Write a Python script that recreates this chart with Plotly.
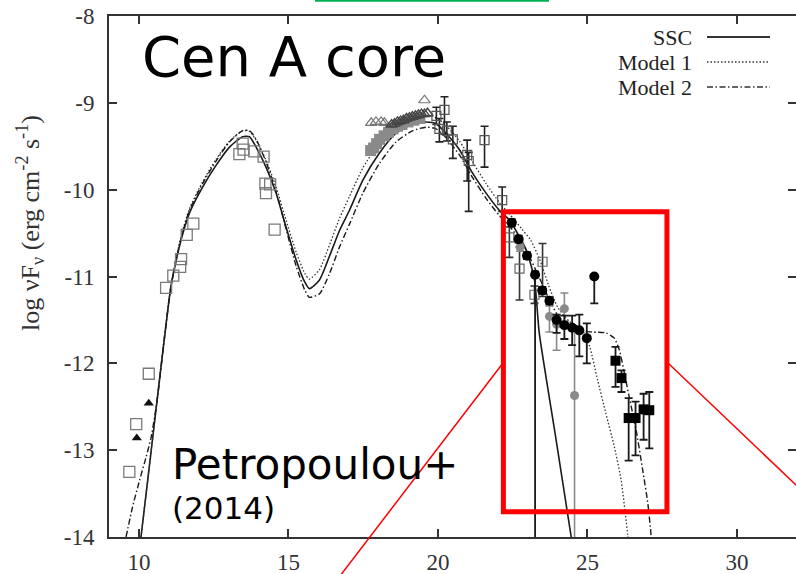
import plotly.graph_objects as go

# ---------------- data ----------------
# model curves (log nu, log nuFnu)
ssc_x = [10.07, 10.3, 10.6, 10.85, 11.08, 11.41, 11.69, 12.13, 12.58, 13.03, 13.47, 13.7, 13.92, 14.25, 14.59,
         14.92, 15.26, 15.54, 15.70, 16.04, 16.37, 16.71, 17.04, 17.49, 18.04, 18.60, 19.16, 19.61, 19.94,
         20.27, 20.72, 21.16, 21.61, 22.06, 22.39, 22.96, 23.23, 23.39, 23.93, 24.45, 24.6]
ssc_y = [-14.0, -13.33, -12.45, -11.72, -11.1, -10.58, -10.27, -9.97, -9.72, -9.51, -9.39, -9.39, -9.51, -9.74,
         -10.04, -10.43, -10.81, -11.06, -11.14, -11.04, -10.77, -10.47, -10.24, -9.89, -9.58, -9.35, -9.24,
         -9.22, -9.24, -9.35, -9.54, -9.81, -10.04, -10.24, -10.35, -10.70, -11.04, -11.65, -12.83, -13.98, -14.3]

m1_x = [10.07, 10.3, 10.6, 10.85, 11.08, 11.41, 11.69, 12.13, 12.58, 13.03, 13.47, 13.7, 13.92, 14.25, 14.59,
        14.92, 15.26, 15.54, 15.70, 16.04, 16.37, 16.71, 17.04, 17.49, 18.04, 18.60, 19.16, 19.61, 19.94,
        20.27, 20.72, 21.16, 21.61, 22.06, 22.39, 22.8, 23.1, 23.4, 23.7, 24.0, 24.4, 24.8, 25.07, 25.34,
        25.62, 25.9, 26.13, 26.35, 26.45]
m1_y = [-14.0, -13.33, -12.45, -11.70, -11.08, -10.54, -10.22, -9.91, -9.65, -9.44, -9.32, -9.33, -9.43, -9.66,
        -9.97, -10.35, -10.72, -10.96, -11.03, -10.92, -10.64, -10.33, -10.08, -9.75, -9.46, -9.26, -9.16,
        -9.14, -9.17, -9.26, -9.44, -9.68, -9.93, -10.15, -10.28, -10.45, -10.58, -10.8, -11.1, -11.35,
        -11.52, -11.6, -11.8, -12.19, -12.58, -12.96, -13.35, -13.98, -14.3]

m2_x = [9.57, 9.79, 10.02, 10.24, 10.41, 10.6, 10.85, 11.08, 11.41, 11.69, 12.13, 12.58, 13.03, 13.47, 13.7,
        13.92, 14.25, 14.59, 14.92, 15.26, 15.54, 15.70, 16.04, 16.37, 16.71, 17.04, 17.49, 18.04, 18.60,
        19.16, 19.61, 19.94, 20.27, 20.72, 21.16, 21.61, 22.06, 22.39, 22.8, 23.1, 23.4, 23.8, 24.1, 24.4,
        24.8, 25.18, 25.62, 25.9, 26.07, 26.24, 26.40, 26.63, 26.85, 27.02, 27.13, 27.2]
m2_y = [-14.0, -13.65, -13.35, -13.08, -12.85, -12.45, -11.72, -11.1, -10.56, -10.24, -9.93, -9.67, -9.45,
        -9.32, -9.32, -9.42, -9.68, -10.02, -10.45, -10.88, -11.15, -11.24, -11.2, -10.97, -10.66, -10.4,
        -10.04, -9.70, -9.45, -9.32, -9.28, -9.3, -9.4, -9.6, -9.86, -10.1, -10.3, -10.42, -10.6, -10.8,
        -11.02, -11.32, -11.5, -11.59, -11.63, -11.64, -11.65, -11.71, -11.85, -12.12, -12.39, -12.77,
        -13.23, -13.61, -13.98, -14.3]

# synchrotron open squares
sy_x = [9.68, 9.91, 10.33, 10.91, 11.15, 11.38, 11.41, 11.60, 11.82, 13.36, 13.47, 13.50, 13.86, 14.17,
        14.23, 14.25, 14.39, 14.54]
sy_y = [-13.25, -12.70, -12.12, -11.13, -10.99, -10.89, -10.80, -10.52, -10.39, -9.59, -9.47, -9.54, -9.56,
        -9.62, -9.93, -10.04, -9.94, -10.46]

# black triangles
tri_x = [9.93, 10.33]
tri_y = [-12.86, -12.46]

# gray open triangles
gtri_x = [17.77, 17.93, 18.10, 18.21, 19.55]
gtri_y = [-9.23, -9.22, -9.22, -9.23, -8.97]

# dark band of triangles
dtri_x = [18.45, 18.55, 18.65, 18.75, 18.85, 18.95, 19.05, 19.15, 19.25, 19.35, 19.45, 19.55, 19.65]
dtri_y = [-9.25, -9.24, -9.22, -9.21, -9.2, -9.18, -9.17, -9.16, -9.15, -9.14, -9.13, -9.13, -9.12]

# gray filled squares
gsq_x = [17.75, 17.85, 17.95, 18.05, 18.2, 18.35, 18.5, 18.65, 18.8, 19.0, 19.2, 19.4]
gsq_y = [-9.55, -9.52, -9.47, -9.42, -9.38, -9.34, -9.3, -9.27, -9.25, -9.22, -9.2, -9.18]

# X-ray / gamma open squares with error bars
ic_x = [19.95, 20.05, 20.22, 20.3, 20.5, 20.98, 21.03, 21.56, 22.15]
ic_y = [-9.15, -9.3, -9.08, -9.32, -9.42, -9.6, -9.67, -9.43, -10.12]
ic_up = [0.1, 0.12, 0.15, 0.1, 0.15, 0.17, 0.1, 0.16, 0.15]
ic_dn = [0.1, 0.15, 0.28, 0.12, 0.22, 0.3, 0.58, 0.31, 0.13]

tev_x = [22.39, 22.73, 23.23, 23.5]
tev_y = [-10.55, -10.91, -11.21, -10.83]
tev_up = [0.12, 0.25, 0.1, 0.21]
tev_dn = [0.23, 0.36, 0.1, 0.4]

# gray circles
gc_x = [22.75, 23.73, 23.97, 24.23, 24.57]
gc_y = [-10.66, -11.46, -11.55, -11.37, -12.37]
gc_up = [0.05, 0.12, 0.1, 0.18, 0.75]
gc_dn = [0.05, 0.18, 0.3, 0.15, 2.5]

# black circles
bc_x = [22.47, 22.70, 22.98, 23.25, 23.49, 23.73, 23.97, 24.23, 24.49, 24.73, 24.98, 25.23]
bc_y = [-10.38, -10.57, -10.76, -10.98, -11.16, -11.28, -11.50, -11.56, -11.59, -11.62, -11.71, -11.0]
bc_up = [0.04, 0.04, 0.04, 0.04, 0.04, 0.04, 0.06, 0.11, 0.14, 0.18, 0.17, 0.0]
bc_dn = [0.04, 0.04, 0.04, 3.5, 0.04, 0.04, 0.15, 0.16, 0.2, 0.3, 0.29, 0.31]

# black squares
hs_x = [25.94, 26.14, 26.38, 26.61, 26.88, 27.07]
hs_y = [-11.97, -12.17, -12.63, -12.63, -12.53, -12.54]
hs_up = [0.16, 0.09, 0.23, 0.19, 0.18, 0.21]
hs_dn = [0.3, 0.16, 0.49, 0.43, 0.35, 0.44]

x_ticks = [10, 15, 20, 25, 30]
y_ticks = [-8, -9, -10, -11, -12, -13, -14]

legend_names = ["SSC", "Model 1", "Model 2"]

# ---------------- figure ----------------
W, H = 796, 574
L, R, T, B = 109, 0, 16, 37
pw, ph = W - L - R, H - T - B
px_per_x = 29.9
x_range = [9, 9 + pw / px_per_x]

def px(x):
    return (x - L) / pw

def py(y):
    return (H - B - y) / ph

fig = go.Figure()

dash_m1 = "1.5px,2px"
dash_m2 = "6px,2.5px,1.5px,2.5px"

fig.add_trace(go.Scatter(x=ssc_x, y=ssc_y, mode="lines", line=dict(color="#1a1a1a", width=1.6, shape="spline", smoothing=0.6)))
fig.add_trace(go.Scatter(x=m1_x, y=m1_y, mode="lines", line=dict(color="#333", width=1.3, dash=dash_m1, shape="spline", smoothing=0.6)))
fig.add_trace(go.Scatter(x=m2_x, y=m2_y, mode="lines", line=dict(color="#1a1a1a", width=1.4, dash=dash_m2, shape="spline", smoothing=0.6)))

def err(up, dn, color, thick=1.6, w=4):
    return dict(type="data", symmetric=False, array=up, arrayminus=dn, color=color, thickness=thick, width=w)

fig.add_trace(go.Scatter(x=sy_x, y=sy_y, mode="markers",
                         marker=dict(symbol="square-open", size=11, color="#7a7a7a", line=dict(width=1.3))))
fig.add_trace(go.Scatter(x=tri_x, y=tri_y, mode="markers",
                         marker=dict(symbol="triangle-up", size=9, color="#111")))
fig.add_trace(go.Scatter(x=gsq_x, y=gsq_y, mode="markers",
                         marker=dict(symbol="square", size=11, color="#8a8a8a")))
fig.add_trace(go.Scatter(x=gtri_x, y=gtri_y, mode="markers",
                         marker=dict(symbol="triangle-up-open", size=10, color="#777", line=dict(width=1.2))))
fig.add_trace(go.Scatter(x=dtri_x, y=dtri_y, mode="markers",
                         marker=dict(symbol="triangle-up-open", size=10, color="#444", line=dict(width=1.4))))
fig.add_trace(go.Scatter(x=ic_x, y=ic_y, mode="markers", error_y=err(ic_up, ic_dn, "#222"),
                         marker=dict(symbol="square-open", size=9, color="#555", line=dict(width=1.2))))
fig.add_trace(go.Scatter(x=tev_x, y=tev_y, mode="markers", error_y=err(tev_up, tev_dn, "#333"),
                         marker=dict(symbol="square-open", size=9, color="#666", line=dict(width=1.2))))
fig.add_trace(go.Scatter(x=gc_x, y=gc_y, mode="markers", error_y=err(gc_up, gc_dn, "#8a8a8a", 1.6),
                         marker=dict(symbol="circle", size=9, color="#8a8a8a")))
fig.add_trace(go.Scatter(x=bc_x, y=bc_y, mode="markers", error_y=err(bc_up, bc_dn, "#1a1a1a", 1.8),
                         marker=dict(symbol="circle", size=10, color="#000")))
fig.add_trace(go.Scatter(x=hs_x, y=hs_y, mode="markers", error_y=err(hs_up, hs_dn, "#1a1a1a", 1.8),
                         marker=dict(symbol="square", size=10, color="#000")))

axis_common = dict(showgrid=False, zeroline=False, showline=True, linecolor="#333", linewidth=2,
                   ticks="inside", ticklen=8, tickwidth=1.5, tickcolor="#333", mirror="ticks",
                   automargin=False,
                   tickfont=dict(family="Liberation Serif", size=23, color="#333"))

fig.update_layout(
    width=W, height=H, margin=dict(l=L, r=R, t=T, b=B, pad=0, autoexpand=False),
    paper_bgcolor="white", plot_bgcolor="white", showlegend=False,
    xaxis=dict(range=x_range, tickvals=x_ticks, ticktext=[str(v) for v in x_ticks],
               ticklabelstandoff=3, **axis_common),
    yaxis=dict(range=[-14, -8], tickvals=y_ticks, ticktext=[str(v) for v in y_ticks],
               ticklabelstandoff=8, **axis_common),
)

# red zoom box (data coords) and callout lines
fig.add_shape(type="rect", xref="x", yref="y", x0=22.19, x1=27.66, y0=-13.71, y1=-10.255,
              line=dict(color="#ff0000", width=5), layer="above")
fig.add_shape(type="line", xref="paper", yref="paper", x0=px(340), y0=py(576), x1=px(503), y1=py(363),
              line=dict(color="#ff0000", width=1.5))
fig.add_shape(type="line", xref="paper", yref="paper", x0=px(668), y0=py(363), x1=px(797), y1=py(486),
              line=dict(color="#ff0000", width=1.5))
# green line at top
fig.add_shape(type="line", xref="paper", yref="paper", x0=px(315), y0=py(0.5), x1=px(549), y1=py(0.5),
              line=dict(color="#00b050", width=2.5))

# legend
leg_y = [37, 62, 87]
leg_dash = ["solid", dash_m1, dash_m2]
leg_w = [1.8, 1.3, 1.5]
for name, yy, d, lw in zip(legend_names, leg_y, leg_dash, leg_w):
    fig.add_annotation(x=px(694), y=py(yy), xref="paper", yref="paper", text=name, showarrow=False,
                       xanchor="right", yanchor="middle",
                       font=dict(family="Liberation Serif", size=22, color="#222"))
    fig.add_shape(type="line", xref="paper", yref="paper", x0=px(707), x1=px(770), y0=py(yy), y1=py(yy),
                  line=dict(color="#333", width=lw, dash=d))

# y-axis title
fig.add_annotation(x=px(30), y=py(223), xref="paper", yref="paper",
                   text="log νF<sub>ν</sub> (erg cm<sup>-2</sup> s<sup>-1</sup>)", showarrow=False,
                   textangle=-90, xanchor="center", yanchor="middle",
                   font=dict(family="Liberation Serif", size=26, color="#333"))

# big labels
fig.add_annotation(x=px(140), y=py(56), xref="paper", yref="paper", text="Cen A core", showarrow=False,
                   xanchor="left", yanchor="middle",
                   font=dict(family="DejaVu Sans", size=56, color="#000"))
fig.add_annotation(x=px(170), y=py(464), xref="paper", yref="paper", text="Petropoulou+", showarrow=False,
                   xanchor="left", yanchor="middle",
                   font=dict(family="DejaVu Sans", size=42, color="#000"))
fig.add_annotation(x=px(170), y=py(508), xref="paper", yref="paper", text="(2014)", showarrow=False,
                   xanchor="left", yanchor="middle",
                   font=dict(family="DejaVu Sans", size=31, color="#000"))

fig.write_html("out.html")
